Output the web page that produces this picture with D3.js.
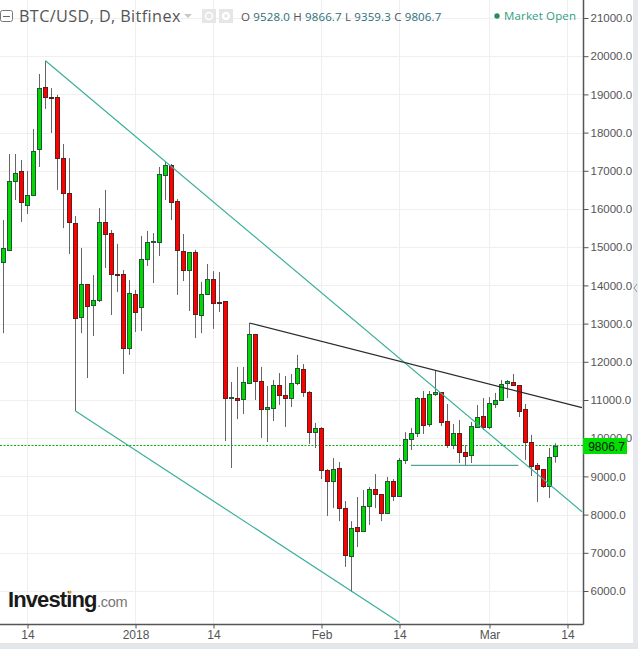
<!DOCTYPE html>
<html>
<head>
<meta charset="utf-8">
<script src="https://cdn.jsdelivr.net/npm/d3@7"></script>
<style>
  html, body { margin: 0; padding: 0; background: #fff; }
  svg { display: block; }
  .price-axis text { font: 11.5px "Liberation Sans", sans-serif; fill: #555; }
  .date-axis text { font: 12px "Liberation Sans", sans-serif; fill: #555; }
  .title { font: 16.2px "Open Sans", sans-serif; fill: #555; letter-spacing: 0.4px; }
  .ohlc { font: 11.5px "Open Sans", sans-serif; letter-spacing: 0.15px; }
</style>
</head>
<body>
<svg id="chart"></svg>
<script>
const firstDay = new Date(Date.UTC(2017, 11, 10));

const opens = [14620, 14930, 16720, 16995, 16105, 16365, 17570, 19195, 18945, 18930, 17335, 16420, 15635, 13170, 14035, 13500, 13620, 15660, 15370, 14310, 14300, 12360, 13775, 13435, 14690, 15125, 15135, 16890, 17150, 16210, 14900, 14400, 14875, 13225, 13775, 14170, 13565, 13590, 11050, 11065, 11025, 11445, 12730, 11495, 10765, 10790, 11390, 11130, 11050, 11445, 11810, 11210, 10160, 10265, 9165, 8880, 9220, 8170, 6915, 7675, 7570, 8225, 8670, 8540, 8040, 8880, 8485, 9430, 9980, 10135, 11050, 10370, 11155, 11210, 10450, 9820, 10135, 9640, 9560, 10295, 10580, 10295, 10895, 11000, 11445, 11470, 11390, 10765, 9900, 9300, 9190, 8750, 9528];
const highs = [15710, 17440, 17440, 17285, 16995, 18095, 19535, 19880, 19165, 18985, 17700, 17335, 15815, 14980, 14035, 14270, 16025, 16500, 15450, 15085, 14400, 14140, 13880, 15295, 15425, 15370, 17100, 17230, 17180, 16260, 15345, 14875, 14930, 14090, 14560, 14375, 14350, 13590, 11470, 11865, 11865, 13015, 12730, 11865, 11365, 11525, 11705, 11630, 11680, 12180, 11940, 11235, 10400, 10290, 9190, 9480, 9375, 8355, 7830, 8460, 8645, 8720, 9060, 8540, 8985, 8930, 9480, 10160, 10265, 11075, 11235, 11235, 11785, 11210, 10895, 10370, 10475, 9820, 10425, 10870, 11050, 11075, 11185, 11525, 11525, 11680, 11390, 10895, 10085, 9350, 9190, 9745, 9866.7];
const lows = [12750, 14920, 16235, 15660, 15870, 16340, 17100, 18620, 17990, 16500, 15500, 14820, 10710, 12750, 11575, 12675, 13565, 14455, 13225, 13825, 11680, 12180, 12780, 12805, 14510, 14060, 14770, 16235, 15710, 13750, 14115, 13330, 12620, 12750, 13775, 12860, 13305, 9925, 9220, 10500, 10635, 11445, 11000, 10005, 9900, 10450, 10870, 10295, 10815, 11390, 11080, 9850, 9745, 8930, 7965, 8170, 7830, 6630, 5975, 7150, 7570, 7730, 8170, 7830, 8040, 8355, 8485, 9325, 9690, 10030, 10110, 10295, 11105, 10320, 9745, 9715, 9350, 9300, 9350, 10295, 10215, 10240, 10790, 10990, 11050, 11390, 10555, 9430, 9010, 8330, 8700, 8435, 9359.3];
const closes = [14970, 16730, 16955, 16185, 16365, 17520, 19165, 18930, 18920, 17335, 16420, 15660, 13145, 14035, 13460, 13620, 15660, 15355, 14300, 14285, 12360, 13800, 13305, 14690, 15135, 15150, 16915, 17150, 16185, 14930, 14400, 14875, 13250, 13775, 14170, 13540, 13540, 11050, 11075, 11010, 11470, 12730, 11495, 10765, 10815, 11390, 11130, 11050, 11445, 11835, 11210, 10160, 10265, 9165, 8880, 9190, 8170, 6940, 7650, 7570, 8225, 8670, 8540, 8040, 8880, 8485, 9430, 9980, 10135, 11050, 10345, 11155, 11210, 10425, 9820, 10135, 9640, 9535, 10320, 10555, 10295, 10920, 11000, 11420, 11495, 11390, 10710, 9900, 9270, 9190, 8750, 9510, 9806.7];

const priceTicks = d3.range(6000, 21001, 1000);
const dateTicks = [
  ["2017-12-14", "14"], ["2018-01-01", "2018"], ["2018-01-14", "14"], ["2018-02-01", "Feb"],
  ["2018-02-14", "14"], ["2018-03-01", "Mar"], ["2018-03-14", "14"]
];

// trend lines as [date, price] pairs
const channelUpper = [["2017-12-17T00:00Z", 19880], ["2018-03-16T10:00Z", 8076]];
const channelLower = [["2017-12-22T00:00Z", 10710], ["2018-02-14T00:00Z", 5175]];
const resistance = [["2018-01-20T00:00Z", 13015], ["2018-03-16T10:00Z", 10800]];
const neckline = [["2018-02-15T22:00Z", 9290], ["2018-03-05T19:00Z", 9290]];

const lastClose = closes[closes.length - 1];
const ohlcLabels = [["O", "9528.0"], ["H", "9866.7"], ["L", "9359.3"], ["C", "9806.7"]];

const width = 638, height = 649;
const axisX = 583.5, axisY = 624.5;

const candles = closes.map((c, i) => ({
  date: d3.utcDay.offset(firstDay, i), open: opens[i], high: highs[i], low: lows[i], close: c
}));

const x = d3.scaleUtc()
  .domain([firstDay, d3.utcDay.offset(firstDay, 97)])
  .range([3.5, 3.5 + 97 * 6]);
const y = d3.scaleLinear().domain([6000, 21000]).range([591, 18]);

const svg = d3.select("#chart").attr("width", width).attr("height", height);

// grid
svg.append("g").selectAll("line").data(priceTicks).join("line")
  .attr("x1", 0).attr("x2", axisX)
  .attr("y1", (d) => Math.round(y(d)) + 0.5).attr("y2", (d) => Math.round(y(d)) + 0.5)
  .attr("stroke", "#efefef");
svg.append("g").selectAll("line").data(dateTicks).join("line")
  .attr("x1", (d) => x(new Date(d[0]))).attr("x2", (d) => x(new Date(d[0])))
  .attr("y1", 0).attr("y2", axisY)
  .attr("stroke", "#efefef");

// last price line
svg.append("line")
  .attr("x1", 0).attr("x2", axisX)
  .attr("y1", Math.floor(y(lastClose)) + 0.5).attr("y2", Math.floor(y(lastClose)) + 0.5)
  .attr("stroke", "#00b400").attr("stroke-dasharray", "2,1.5");

// candles
const candle = svg.append("g").selectAll("g").data(candles).join("g");
candle.append("line")
  .attr("x1", (d) => x(d.date)).attr("x2", (d) => x(d.date))
  .attr("y1", (d) => y(d.high)).attr("y2", (d) => y(d.low))
  .attr("stroke", "#666");
candle.append("rect")
  .attr("x", (d) => x(d.date) - 2)
  .attr("width", 4)
  .attr("y", (d) => Math.round(y(Math.max(d.open, d.close))) + 0.5)
  .attr("height", (d) => Math.max(1, Math.round(y(Math.min(d.open, d.close))) - Math.round(y(Math.max(d.open, d.close)))))
  .attr("fill", (d) => d.close >= d.open ? "#00d800" : "#ff0000")
  .attr("stroke", (d) => d.close >= d.open ? "#22553a" : "#5a1f1f");

// trend lines
const trend = d3.line().x((d) => x(new Date(d[0]))).y((d) => y(d[1]));
[[channelUpper, "#3aaf9a", 1.2], [channelLower, "#3aaf9a", 1.2], [resistance, "#2a2a2a", 1.2], [neckline, "#2b8c7c", 1]]
  .forEach(([points, color, w]) => {
    svg.append("path").attr("d", trend(points)).attr("fill", "none").attr("stroke", color).attr("stroke-width", w);
  });

// axes
const priceAxis = svg.append("g").attr("class", "price-axis")
  .attr("transform", `translate(${axisX},0)`)
  .call(d3.axisRight(y).tickValues(priceTicks).tickFormat(d3.format(".1f")).tickSize(5).tickPadding(2));
priceAxis.select(".domain").attr("d", `M0,0V${axisY}`).attr("stroke", "#555").attr("stroke-width", 1.5);
priceAxis.selectAll(".tick line").attr("stroke", "#555");

const dateLabels = new Map(dateTicks.map((d) => [+new Date(d[0]), d[1]]));
const dateAxis = svg.append("g").attr("class", "date-axis")
  .attr("transform", `translate(0,${axisY})`)
  .call(d3.axisBottom(x).tickValues(dateTicks.map((d) => new Date(d[0])))
    .tickFormat((d) => dateLabels.get(+d)).tickSize(4).tickPadding(2));
dateAxis.select(".domain").attr("d", `M0,0H${axisX}`).attr("stroke", "#555").attr("stroke-width", 1.5);
dateAxis.selectAll(".tick line").attr("stroke", "#555");

// last price tag
svg.append("rect").attr("x", axisX - 0.5).attr("y", 438).attr("width", 44).attr("height", 16).attr("fill", "#00e000");
svg.append("text").attr("x", 606.5).attr("y", 450.5).attr("text-anchor", "middle")
  .style("font", "12px 'Liberation Sans', sans-serif").attr("fill", "#111").text(lastClose.toFixed(1));

// header
svg.append("rect").attr("x", 0.5).attr("y", 10.5).attr("width", 12).attr("height", 11).attr("rx", 2)
  .attr("fill", "#fff").attr("stroke", "#777");
svg.append("line").attr("x1", 3).attr("x2", 10).attr("y1", 16.5).attr("y2", 16.5).attr("stroke", "#666");
svg.append("text").attr("class", "title").attr("x", 19).attr("y", 21.5).text("BTC/USD, D, Bitfinex");
svg.append("path").attr("d", "M184,14h8l-4,4z").attr("fill", "#c8c8c8");

[202, 219].forEach((left, i) => {
  svg.append("rect").attr("x", left).attr("y", 9).attr("width", 14).attr("height", 14).attr("fill", "#e6e6e6");
  svg.append("circle").attr("cx", left + 7).attr("cy", 16).attr("r", i ? 3 : 3.5)
    .attr("fill", "none").attr("stroke", "#fff").attr("stroke-width", i ? 2.5 : 1.5);
});

const ohlc = svg.append("text").attr("class", "ohlc").attr("x", 241).attr("y", 21);
ohlcLabels.forEach(([label, value]) => {
  ohlc.append("tspan").attr("fill", "#555").text(label + " ");
  ohlc.append("tspan").attr("fill", "#2c6e78").text(value + " ");
});

svg.append("circle").attr("cx", 497).attr("cy", 16).attr("r", 2.7).attr("fill", "#2e8b57");
svg.append("text").attr("class", "ohlc").attr("x", 504).attr("y", 20).attr("fill", "#2f9e83").text("Market Open");

// logo
svg.append("text").attr("x", 8).attr("y", 607)
  .style("font", "bold 22px 'Liberation Sans', sans-serif").style("letter-spacing", "-0.9px")
  .attr("fill", "#1a1a1a").text("Investing");
svg.append("text").attr("x", 97).attr("y", 607)
  .style("font", "14.5px 'Liberation Sans', sans-serif").style("letter-spacing", "-0.3px")
  .attr("fill", "#777").text(".com");
svg.append("circle").attr("cx", 70).attr("cy", 592).attr("r", 1.6).attr("fill", "#f5a623");

// page edges
svg.append("rect").attr("x", 633).attr("y", 0).attr("width", 5).attr("height", height).attr("fill", "#e8e9ee");
svg.append("path").attr("d", "M637,284l-3,4l3,4").attr("fill", "none").attr("stroke", "#999");
svg.append("rect").attr("x", 0).attr("y", 643).attr("width", width).attr("height", 6).attr("fill", "#e4e7ea");
</script>
</body>
</html>
